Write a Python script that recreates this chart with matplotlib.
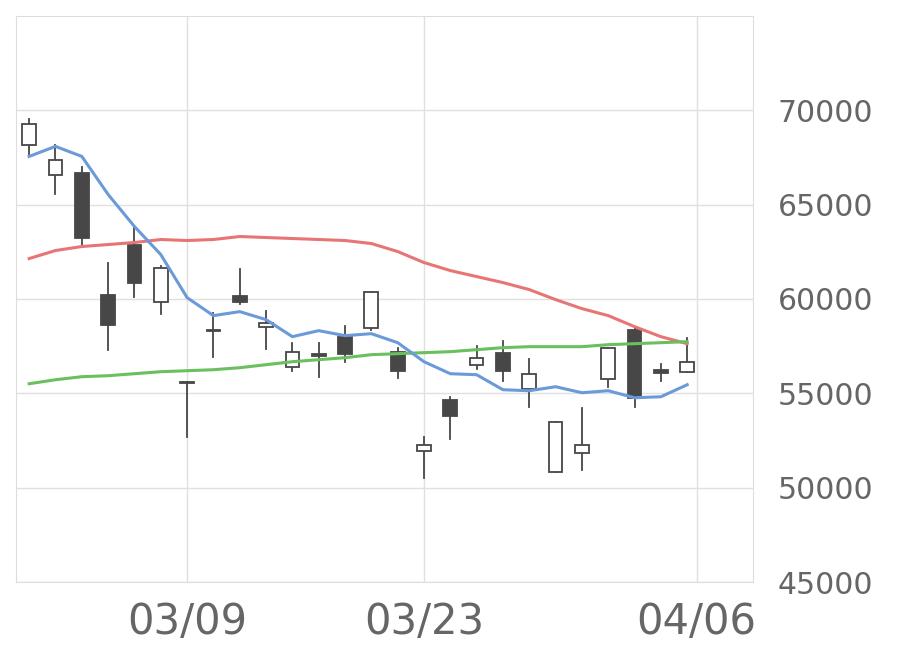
import matplotlib
matplotlib.use("Agg")
import matplotlib.pyplot as plt
from matplotlib.patches import Rectangle

opens  = [68142,66550,66656,60233,62887,59862,55615,58350,60180,58535,56411,57102,58004,58481,57208,51953,54660,56518,57155,55244,50838,51847,55775,58375,56252,56146]
highs  = [69522,68142,66974,61932,63843,61773,55615,59278,61614,59384,57685,57685,58588,60392,57420,52696,54819,57526,57791,56836,53492,54235,57420,58481,56571,57951]
lows   = [67664,65541,62887,57314,60127,59225,52697,56942,59756,57367,56199,55881,56677,58375,55828,50520,52590,56305,55668,54289,50838,50944,55350,54289,55668,56146]
closes = [69257,67346,63259,58641,60870,61667,55560,58300,59862,58747,57208,57000,57102,60392,56199,52271,53810,56889,56199,56040,53492,52271,57420,54766,56093,56677]
ma_blue = [67558,68089,67558,65541,63843,62357,60074,59119,59331,58906,58004,58322,58057,58163,57685,56677,56040,55987,55191,55138,55350,55032,55138,54766,54819,55456]
ma_red = [62144,62569,62781,62887,62994,63153,63100,63153,63312,63259,63206,63153,63100,62940,62516,61932,61507,61189,60870,60499,59968,59490,59119,58535,58004,57632]
ma_green = [55509,55721,55881,55934,56040,56146,56199,56252,56358,56518,56677,56783,56889,57049,57102,57155,57208,57314,57420,57473,57473,57473,57579,57632,57685,57738]
tick_pos = [6, 15, 25.36]
tick_labels = ["03/09", "03/23", "04/06"]
ytick_vals = [45000, 50000, 55000, 60000, 65000, 70000]

fig = plt.figure(figsize=(9.2, 6.69), dpi=100)
ax = fig.add_axes([16/920, 1-582/669, (753-16)/920, (582-16)/669])
dark = "#474747"
w = 0.52
for i, (o, h, l, c) in enumerate(zip(opens, highs, lows, closes)):
    ax.plot([i, i], [l, h], color=dark, lw=1.3, zorder=3)
    up = c >= o
    bot, top = min(o, c), max(o, c)
    ax.add_patch(Rectangle((i - w/2, bot), w, max(top - bot, 60),
                           facecolor="white" if up else dark, edgecolor=dark, lw=1.3, zorder=4))
x = list(range(len(opens)))
ax.plot(x, ma_red, color="#e87474", lw=2.2, zorder=5)
ax.plot(x, ma_green, color="#6abf5e", lw=2.2, zorder=5)
ax.plot(x, ma_blue, color="#6a9ad8", lw=2.2, zorder=5)

ax.set_xlim(-0.5, 27.5)
ax.set_ylim(45000, 75000)
ax.set_xticks(tick_pos)
ax.set_xticklabels(tick_labels)
ax.set_yticks(ytick_vals)
ax.set_yticklabels([str(v) for v in ytick_vals])
ax.yaxis.tick_right()
ax.grid(True, color="#e0e0e0", lw=1)
ax.set_axisbelow(True)
for s in ax.spines.values():
    s.set_color("#dddddd")
ax.tick_params(length=0, colors="#666666")
ax.tick_params(axis="x", labelsize=30, pad=14)
ax.tick_params(axis="y", labelsize=21.5, pad=18)
fig.savefig("out.png", dpi=100)
